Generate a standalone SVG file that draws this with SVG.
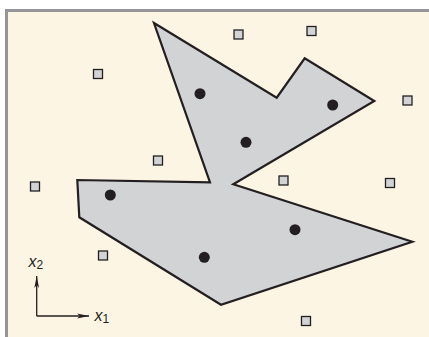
<svg xmlns="http://www.w3.org/2000/svg" width="429" height="337" viewBox="0 0 429 337">
<defs>
<style>
.sq{fill:#d1d3d5;stroke:#231f20;stroke-width:1.3}
.dot{fill:#231f20}
.lbl{font-family:"Liberation Sans",Arial,sans-serif;font-style:italic;font-size:16px;fill:#231f20}
.sub{font-style:normal;font-size:12px}
.ax{stroke:#231f20;stroke-width:1.3;fill:none}
</style>
<marker id="ah" markerWidth="12" markerHeight="6" refX="12" refY="3" orient="auto" markerUnits="userSpaceOnUse">
<path d="M0,0.6 L12,3 L0,5.4 L3,3 Z" fill="#231f20"/>
</marker>
</defs>
<rect x="0" y="0" width="429" height="337" fill="#ffffff"/>
<rect x="6.5" y="10.5" width="430" height="340" fill="#fdf5e4" stroke="#939598" stroke-width="3"/>
<g id="region">
<polygon points="154,23 276.7,97.7 304.7,58.3 374.3,101 233.3,184.3 412.3,241.7 221,304.7 79.3,217.3 77.3,180 210,182.3" fill="#d1d3d5" stroke="#231f20" stroke-width="2.2" stroke-linejoin="miter"/>
</g>
<g id="dots">
<circle class="dot" cx="200" cy="93.7" r="5.5"/>
<circle class="dot" cx="332.7" cy="105" r="5.5"/>
<circle class="dot" cx="246" cy="142.3" r="5.5"/>
<circle class="dot" cx="110.3" cy="195" r="5.5"/>
<circle class="dot" cx="295" cy="229.7" r="5.5"/>
<circle class="dot" cx="204.3" cy="257.3" r="5.5"/>
</g>
<g id="squares">
<rect class="sq" x="234" y="30" width="9" height="9"/>
<rect class="sq" x="307" y="26.5" width="9" height="9"/>
<rect class="sq" x="93.5" y="69.5" width="9" height="9"/>
<rect class="sq" x="403" y="96" width="9" height="9"/>
<rect class="sq" x="153.5" y="156" width="9" height="9"/>
<rect class="sq" x="30.5" y="182" width="9" height="9"/>
<rect class="sq" x="279" y="176" width="9" height="9"/>
<rect class="sq" x="385.5" y="178.5" width="9" height="9"/>
<rect class="sq" x="98.5" y="251" width="9" height="9"/>
<rect class="sq" x="301.5" y="316.5" width="9" height="9"/>
</g>
<g id="axes">
<path class="ax" d="M36.7,316 L36.7,276" marker-end="url(#ah)"/>
<path class="ax" d="M36.7,316 L89,316" marker-end="url(#ah)"/>
<text class="lbl" x="28.5" y="267">x<tspan class="sub" dy="2">2</tspan></text>
<text class="lbl" x="94.5" y="321">x<tspan class="sub" dy="2">1</tspan></text>
</g>
</svg>
